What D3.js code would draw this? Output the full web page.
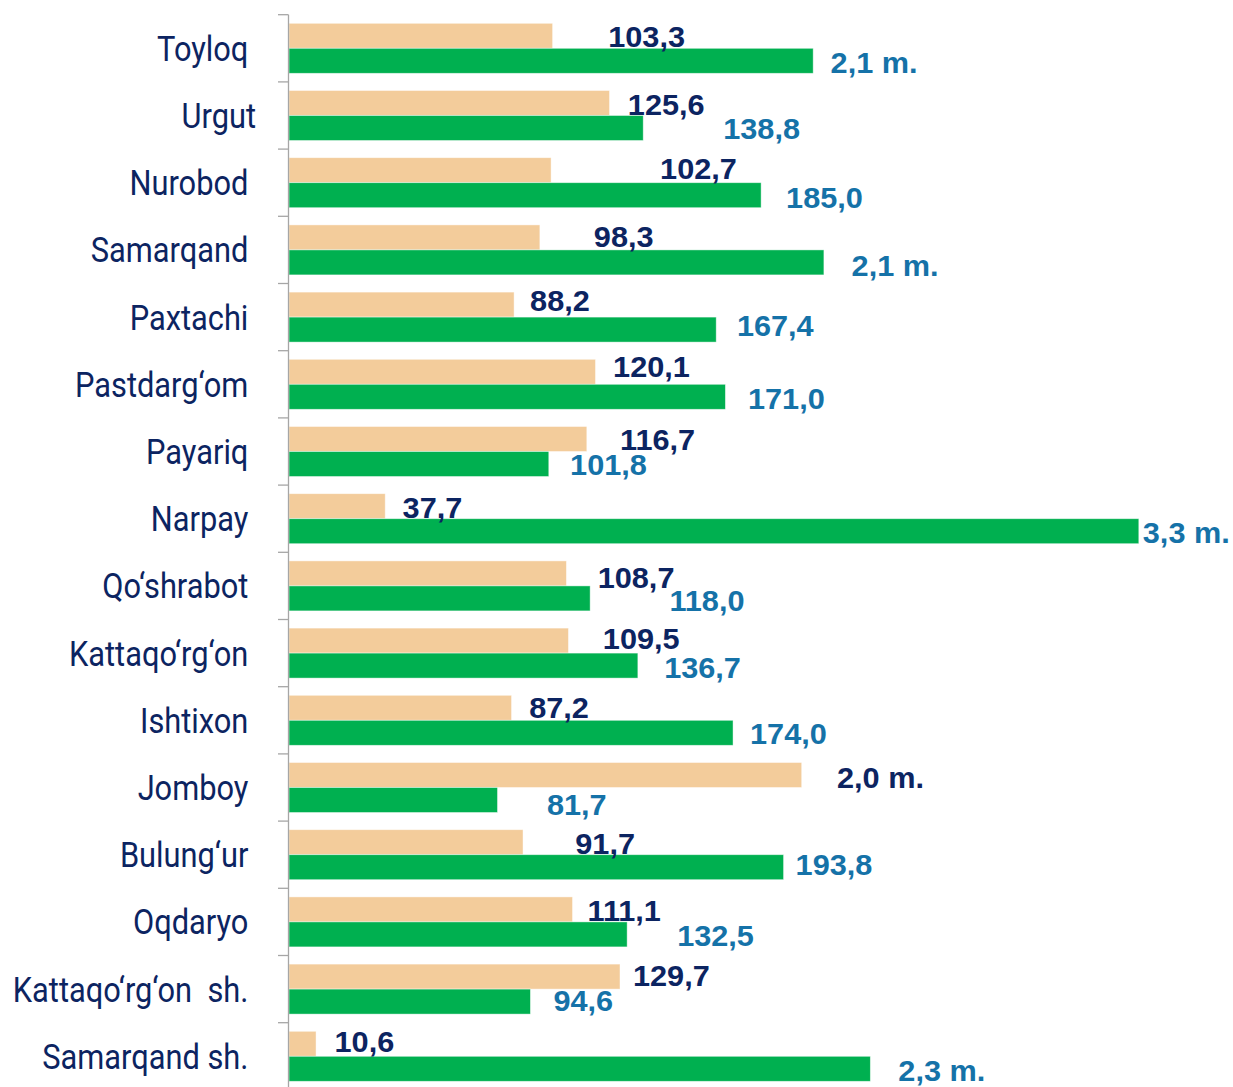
<!DOCTYPE html>
<html>
<head>
<meta charset="utf-8">
<script src="https://cdn.jsdelivr.net/npm/d3@7"></script>
<style>
  html, body { margin: 0; padding: 0; background: #ffffff; }
  svg { display: block; }
  .cat { white-space: pre; }
</style>
</head>
<body>
<svg id="chart" width="1233" height="1087"></svg>
<script>
// ---- data ----
const categories = ["Toyloq ", "Urgut", "Nurobod ", "Samarqand ", "Paxtachi ", "Pastdarg\u2018om ",
  "Payariq ", "Narpay ", "Qo\u2018shrabot ", "Kattaqo\u2018rg\u2018on ", "Ishtixon ", "Jomboy ",
  "Bulung\u2018ur ", "Oqdaryo ", "Kattaqo\u2018rg\u2018on  sh. ", "Samarqand sh. "];
const tanValues = [103.3, 125.6, 102.7, 98.3, 88.2, 120.1, 116.7, 37.7, 108.7, 109.5, 87.2, 200.9, 91.7, 111.1, 129.7, 10.6];
const greenValues = [205.4, 138.8, 185.0, 209.6, 167.4, 171.0, 101.8, 333.0, 118.0, 136.7, 174.0, 81.7, 193.8, 132.5, 94.6, 227.8];
const tanLabels = ["103,3", "125,6", "102,7", "98,3", "88,2", "120,1", "116,7", "37,7", "108,7", "109,5", "87,2", "2,0 m.", "91,7", "111,1", "129,7", "10,6"];
const greenLabels = ["2,1 m.", "138,8", "185,0", "2,1 m.", "167,4", "171,0", "101,8", "3,3 m.", "118,0", "136,7", "174,0", "81,7", "193,8", "132,5", "94,6", "2,3 m."];
const seriesKeys = ["tan", "green"];

// ---- layout (manual label placement, as in the original) ----
const tanLabelShift = [[55.6, 0.9], [18.3, 1.7], [109, -2.2], [54, -1], [16, -4.3], [17.6, -5.5], [33.3, 0], [17.4, 1.6],
  [31.3, 3.6], [34.4, -1.8], [17.6, 0], [35.3, 2], [52.3, 1.5], [15, 1.4], [13, -1.6], [18.5, -2.1]];
const greenLabelShift = [[17.4, 1.4], [80, 0.8], [25, 2], [27.7, 2.6], [20.7, -4.1], [22.6, 1.5], [21.3, 0], [4, 1.3],
  [79.3, 1.8], [26.3, 1.9], [17, 1], [49.4, 4.2], [12, -3.2], [50, 0.6], [23, -0.8], [28, 2]];

const colors = { tan: "#F3CC9B", green: "#00B050" };
const labelColors = { tan: "#0C2461", green: "#1572A8" };

const svg = d3.select("#chart");
const x0 = 289;
const x = d3.scaleLinear().domain([0, 100]).range([x0, x0 + 255.2]);
const step = 67.2;
const yTop = 14.7;
const y = d3.scaleBand().domain(d3.range(categories.length))
  .range([yTop, yTop + step * categories.length])
  .paddingInner(0.256).paddingOuter(0.128);
const ySub = d3.scaleBand().domain(seriesKeys).range([0, y.bandwidth()]);

const rows = categories.map((c, i) => ({
  i, cat: c,
  vals: [
    { key: "tan", v: tanValues[i], label: tanLabels[i], shift: tanLabelShift[i] },
    { key: "green", v: greenValues[i], label: greenLabels[i], shift: greenLabelShift[i] }
  ]
}));

// bars
const g = svg.selectAll("g.row").data(rows).join("g")
  .attr("class", "row")
  .attr("transform", d => `translate(0,${y(d.i)})`);

g.selectAll("rect").data(d => d.vals).join("rect")
  .attr("x", x(0))
  .attr("y", d => ySub(d.key))
  .attr("width", d => x(d.v) - x(0))
  .attr("height", ySub.bandwidth())
  .attr("fill", d => colors[d.key])
  .attr("stroke", "rgba(255,255,255,0.55)")
  .attr("stroke-width", 0.8);

// value labels
const fs = 29.5;
g.selectAll("text.val").data(d => d.vals).join("text")
  .attr("class", "val")
  .attr("transform", d => `translate(${x(d.v) + d.shift[0]},${ySub(d.key) + ySub.bandwidth() / 2 + d.shift[1] + fs * 0.358}) scale(1.04,1)`)
  .attr("font-family", "'Liberation Sans', Arial, sans-serif")
  .attr("font-weight", "bold")
  .attr("font-size", fs)
  .attr("fill", d => labelColors[d.key])
  .text(d => d.label);

// axis line and ticks
const axisColor = "#A6A6A6";
svg.append("line")
  .attr("x1", x0 - 0.5).attr("x2", x0 - 0.5)
  .attr("y1", yTop).attr("y2", yTop + step * categories.length)
  .attr("stroke", axisColor).attr("stroke-width", 1.3);
const tickYs = d3.range(categories.length + 1).map(k => yTop + k * step);
svg.selectAll("line.tick").data(tickYs).join("line")
  .attr("class", "tick")
  .attr("x1", x0 - 11).attr("x2", x0 - 0.5)
  .attr("y1", d => d).attr("y2", d => d)
  .attr("stroke", axisColor).attr("stroke-width", 1.3);

// category labels
const cfs = 35;
svg.selectAll("text.cat").data(rows).join("text")
  .attr("class", "cat")
  .attr("transform", d => `translate(256,${y(d.i) + y.bandwidth() / 2 + cfs * 0.355}) scale(0.88,1)`)
  .attr("text-anchor", "end")
  .attr("font-family", "Roboto, 'Noto Sans', sans-serif")
  .attr("font-size", cfs)
  .attr("fill", "#0C2461")
  .text(d => d.cat);
</script>
</body>
</html>
